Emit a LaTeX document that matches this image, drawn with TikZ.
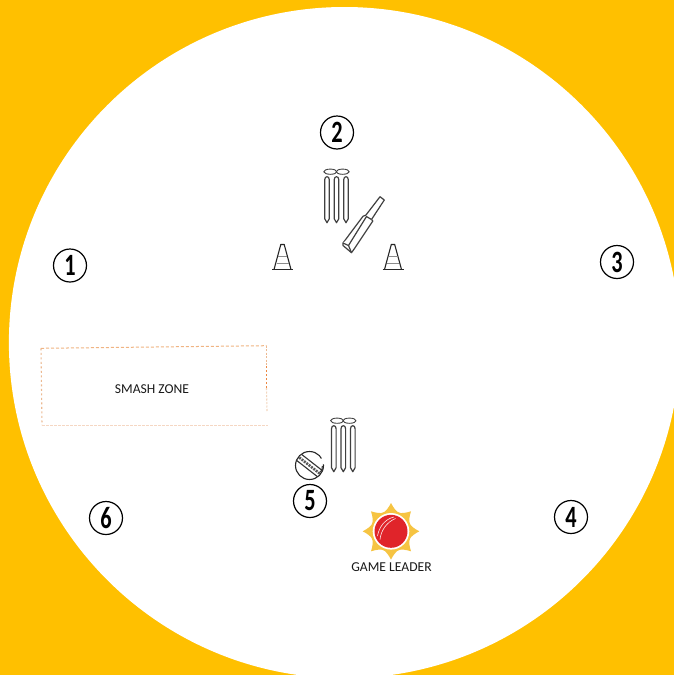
\documentclass[tikz,border=0pt]{standalone}
\usepackage{fontspec}
\setmainfont{Carlito}
\definecolor{bgyellow}{RGB}{255,192,0}
\definecolor{sunyellow}{RGB}{246,196,66}
\definecolor{ballred}{RGB}{224,36,42}
\definecolor{zoneA}{RGB}{240,180,130}
\definecolor{zoneB}{RGB}{236,185,145}
\definecolor{zoneC}{RGB}{237,135,65}
\definecolor{zoneD}{RGB}{243,214,190}
\definecolor{zoneE}{RGB}{245,215,195}
\begin{document}
\begin{tikzpicture}[x=1pt,y=-1pt,
  numcircle/.style={circle,draw=black,line width=1.2pt,fill=white,minimum size=33pt,inner sep=0pt,font=\fontsize{31}{31}\selectfont\bfseries\addfontfeatures{FakeStretch=0.72}},
  lbl/.style={font=\fontsize{13.6}{15}\selectfont,text=black!90,inner sep=0pt},
  eq/.style={line width=1.2pt,draw=black!75,fill=white,line join=round},
  stump/.pic={
    \foreach \dx in {-9.5,0,9.5}{
      \draw[eq] (\dx-2.3,8) -- (\dx-2.3,47) -- (\dx,51) -- (\dx+2.3,47) -- (\dx+2.3,8) .. controls (\dx+2.3,4) and (\dx-2.3,4) .. cycle;
    }
    \draw[eq,line width=0.9pt] (-6.2,0) ellipse (6.5 and 2.6);
    \draw[eq,line width=0.9pt] (6.2,0) ellipse (6.5 and 2.6);
  },
  cone/.pic={
    \draw[line width=1.1pt,black!85] (-10.5,0) -- (10.5,0);
    \draw[line width=1.1pt,black!85,line join=round] (-8.5,0) -- (-1.7,-25) -- (1.7,-25) -- (8.5,0);
    \draw[line width=0.8pt,black!45] (-4.5,-13) -- (4.5,-13) (-6,-6.5) -- (6,-6.5);
  }]
\useasboundingbox (0,0) rectangle (674,675);
\fill[bgyellow] (0,0) rectangle (674,675);
\begin{scope}
\clip (0,0) rectangle (674,675);
\fill[white] (344.5,342.6) circle (335.6);
\end{scope}

\node[numcircle] (n1) at (70,265.5) {1};
\node[numcircle] (n2) at (337,132.5) {2};
\node[numcircle] (n3) at (617,262) {3};
\node[numcircle] (n4) at (571,517) {4};
\node[numcircle] (n5) at (310,501) {5};
\node[numcircle] (n6) at (106,518) {6};

% upper wicket, cones, bat
\pic at (336.5,171.7) {stump};
\pic at (282.5,269.5) {cone};
\pic at (393,269.5) {cone};
\draw[eq] (380,196.7) -- (384.3,200) -- (371.5,219.5) -- (372.8,221) -- (354.5,248.5) -- (351.5,252.7) -- (343,245.5) -- (343,243) -- (363,216.3) -- (366,215) -- cycle;
\draw[eq] (371.5,219.5) -- (366.5,216.5) -- (348.5,245.5) -- (343,243);
\draw[eq] (348.5,245.5) -- (351.5,252.7);

% smash zone
\draw[dash pattern=on 3pt off 2pt,line width=1pt,draw=zoneA] (41,348.3) -- (266.5,345.7);
\draw[dash pattern=on 2pt off 2.5pt,line width=1.1pt,draw=zoneB] (41,348.3) -- (42,425);
\draw[dash pattern=on 3pt off 1pt,line width=0.8pt,draw=zoneE] (42,425.3) -- (268,425.3);
\draw[dash pattern=on 2pt off 1.5pt,line width=1.1pt,draw=zoneB] (266.5,345.7) -- (266.5,366);
\draw[dash pattern=on 2pt off 2pt,line width=1.3pt,draw=zoneC] (266.5,366) -- (266.5,388);
\draw[dash pattern=on 2pt off 1.5pt,line width=1.1pt,draw=zoneD] (266.5,388) -- (267,411);
\node[lbl] (smash) at (152,389) {SMASH ZONE};

% lower wicket and ball
\pic at (343.3,420.7) {stump};
\node[circle,draw=black!85,line width=1.1pt,fill=white,minimum size=28pt,inner sep=0pt] (ball) at (309.5,465.5) {};
\draw[white,line width=2.5pt] ([shift={(ball.center)}]-30:14.2) arc[start angle=-30,end angle=-5,radius=14.2];
\draw[black!85,line width=1pt] (320.5,472) .. controls (322,470) and (322.5,468.5) .. (322.3,466);
\begin{scope}[shift={(ball.center)},rotate=-38]
  \draw[line width=1.1pt,black!80] (-13,-3.9) -- (13.5,-3.9) (-13.5,3.9) -- (13,3.9);
  \draw[line width=2.6pt,black!65,dash pattern=on 2pt off 1pt] (-13,0) -- (13,0);
\end{scope}

% game leader
\coordinate (sun) at (391,531.3);
\begin{scope}[shift={(sun)}]
  \fill[sunyellow] (0,0) circle (20.5);
  \foreach \a in {0,45,...,315}{
    \fill[sunyellow] (\a:28.3) .. controls (\a+6:23.5) and (\a+14:21) .. (\a+22.5:20)
      -- (\a-22.5:20) .. controls (\a-14:21) and (\a-6:23.5) .. cycle;
  }
\end{scope}
\fill[white] (sun) circle (18.3);
\node[circle,fill=ballred,minimum size=33pt,inner sep=0pt] (redball) at (sun) {};
\draw[white!90!ballred,line width=0.6pt] (377.5,536) .. controls (379,527) and (385,519) .. (394,517);
\draw[white!90!ballred,line width=0.6pt] (380,539.5) .. controls (381,530) and (387,522) .. (395.5,518.5);
\node[lbl] (leader) at (391.5,567) {GAME LEADER};
\end{tikzpicture}
\end{document}
